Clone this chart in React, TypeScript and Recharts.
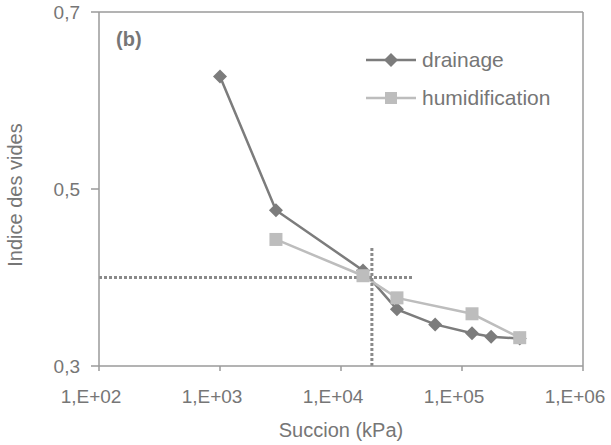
import React from "react";
import { LineChart, Line, XAxis, YAxis, ReferenceLine } from "recharts";

// suction (kPa) and void ratio
const drainageSuction = [1000, 2900, 15200, 29000, 60000, 121000, 174000, 300000];
const drainageVoid = [0.627, 0.476, 0.408, 0.364, 0.347, 0.337, 0.333, 0.331];
const humidSuction = [2900, 15200, 29000, 121000, 300000];
const humidVoid = [0.443, 0.402, 0.377, 0.359, 0.332];

const xTicks = [100, 1000, 10000, 100000, 1000000];
const yTicks = [0.3, 0.5, 0.7];

// dotted guide lines
const guideVoid = 0.4;
const guideVoidEnd = 40000;
const guideSuction = 18000;
const guideSuctionTop = 0.435;

const drainage = drainageSuction.map((s, i) => ({ s, e: drainageVoid[i] }));
const humid = humidSuction.map((s, i) => ({ s, e: humidVoid[i] }));

const DARK = "#7c7c7c";
const LIGHT = "#bdbdbd";
const AXIS = "#9a9a9a";
const TEXT = "#767676";
const FONT = "'Liberation Sans', Arial, sans-serif";

const fmtX = (v: number) => "1,E+0" + Math.round(Math.log10(v));
const fmtY = (v: number) => v.toFixed(1).replace(".", ",");

function Diamond({ cx, cy, r = 7, fill }: any) {
  return (
    <polygon
      points={`${cx},${cy - r} ${cx + r},${cy} ${cx},${cy + r} ${cx - r},${cy}`}
      fill={fill}
    />
  );
}

function Square({ cx, cy, r = 6.5, fill }: any) {
  return <rect x={cx - r} y={cy - r} width={2 * r} height={2 * r} fill={fill} />;
}

const legendItems = [
  { name: "drainage", color: DARK, shape: "diamond" },
  { name: "humidification", color: LIGHT, shape: "square" },
];

const yTitle = (p: any) => {
  const vb = p.viewBox || { x: 0, y: 12, width: 99, height: 354 };
  const x = vb.x + 15;
  const y = vb.y + vb.height / 2 + 6;
  return (
    <text
      x={x}
      y={y}
      transform={`rotate(-90 ${x} ${y})`}
      textAnchor="middle"
      dominantBaseline="central"
      fill={TEXT}
      fontSize={20}
      fontFamily={FONT}
    >
      Indice des vides
    </text>
  );
};

const xTitle = (p: any) => {
  const vb = p.viewBox || { x: 99, y: 366, width: 484, height: 79 };
  return (
    <text
      x={vb.x + vb.width / 2}
      y={vb.y + 64}
      textAnchor="middle"
      dominantBaseline="central"
      fill={TEXT}
      fontSize={20}
      fontFamily={FONT}
    >
      Succion (kPa)
    </text>
  );
};

export default function App() {
  const tickStyle = { fill: TEXT, fontSize: 19, fontFamily: FONT };
  const dotted = { stroke: "#8a8a8a", strokeWidth: 3, strokeDasharray: "3 2" };
  return (
    <div style={{ position: "absolute", left: 0, top: 0, width: 611, height: 445, background: "#fff" }}>
      <LineChart width={611} height={445} margin={{ top: 12, right: 28, bottom: 0, left: 0 }}>
        <XAxis
          dataKey="s"
          type="number"
          scale="log"
          domain={[100, 1000000]}
          ticks={xTicks}
          tickFormatter={fmtX}
          allowDataOverflow
          height={79}
          stroke={AXIS}
          strokeWidth={1.5}
          tickSize={5}
          tickMargin={19}
          tick={{ ...tickStyle, dx: -8 }}
          label={xTitle}
        />
        <YAxis
          type="number"
          domain={[0.3, 0.7]}
          ticks={yTicks}
          tickFormatter={fmtY}
          width={99}
          stroke={AXIS}
          strokeWidth={1.5}
          tickSize={8}
          tickMargin={11}
          tick={tickStyle}
          label={yTitle}
        />
        {/* plot-area frame */}
        <ReferenceLine y={0.7} stroke={AXIS} strokeWidth={1.5} />
        <ReferenceLine x={1000000} stroke={AXIS} strokeWidth={1.5} />
        <Line
          data={drainage}
          dataKey="e"
          name="drainage"
          stroke={DARK}
          strokeWidth={2.5}
          isAnimationActive={false}
          dot={(p: any) => <Diamond key={"d" + p.index} cx={p.cx} cy={p.cy} r={7} fill={DARK} />}
          activeDot={false}
        />
        <Line
          data={humid}
          dataKey="e"
          name="humidification"
          stroke={LIGHT}
          strokeWidth={2.5}
          isAnimationActive={false}
          dot={(p: any) => <Square key={"h" + p.index} cx={p.cx} cy={p.cy} r={6.5} fill={LIGHT} />}
          activeDot={false}
        />
        <ReferenceLine
          segment={[
            { x: 100, y: guideVoid },
            { x: guideVoidEnd, y: guideVoid },
          ]}
          {...dotted}
        />
        <ReferenceLine
          segment={[
            { x: guideSuction, y: 0.3 },
            { x: guideSuction, y: guideSuctionTop },
          ]}
          {...dotted}
        />
      </LineChart>
      <div
        style={{
          position: "absolute",
          left: 116,
          top: 28,
          fontFamily: FONT,
          fontWeight: "bold",
          fontSize: 20,
          color: TEXT,
        }}
      >
        (b)
      </div>
      <div
        style={{
          position: "absolute",
          left: 366,
          top: 41,
          display: "flex",
          flexDirection: "column",
          fontFamily: FONT,
        }}
      >
        {legendItems.map((it) => (
          <div key={it.name} style={{ display: "flex", alignItems: "center", height: 38 }}>
            <svg width={50} height={20}>
              <line x1={0} y1={10} x2={50} y2={10} stroke={it.color} strokeWidth={2.5} />
              {it.shape === "diamond" ? (
                <Diamond cx={25} cy={10} r={7} fill={it.color} />
              ) : (
                <Square cx={25} cy={10} r={6} fill={it.color} />
              )}
            </svg>
            <span style={{ fontSize: 21, color: TEXT, marginLeft: 6 }}>{it.name}</span>
          </div>
        ))}
      </div>
    </div>
  );
}
